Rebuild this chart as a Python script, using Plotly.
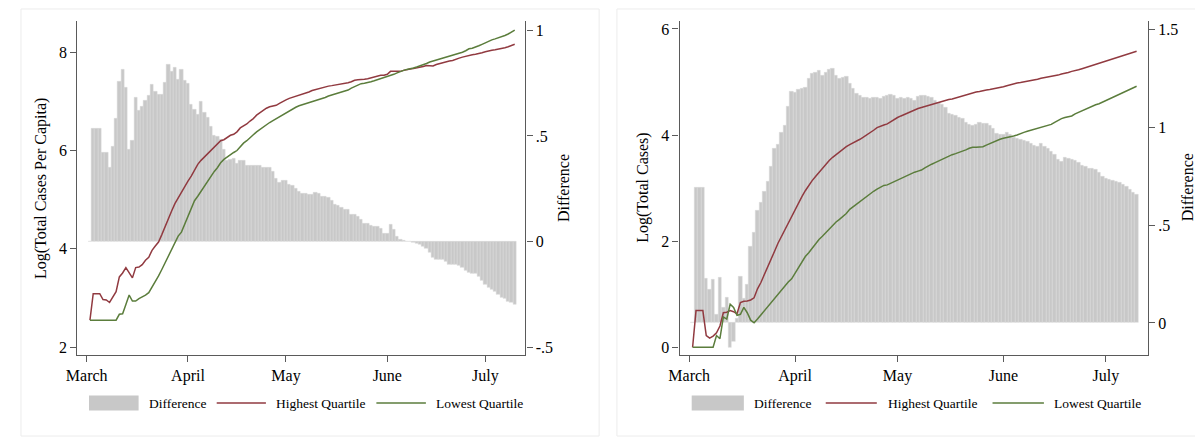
import plotly.graph_objects as go
import pandas as pd

# The page body adds an 8px margin, so the figure is sized and positioned to compensate.
OFF = 8
W, H = 1203 - OFF, 441 - OFF

# ---------------- data ----------------
dates = pd.date_range("2020-03-02", periods=131).strftime("%Y-%m-%d").tolist()
month_ticks = ["2020-03-01", "2020-04-01", "2020-05-01", "2020-06-01", "2020-07-01"]
month_labels = ["March", "April", "May", "June", "July"]

# Left panel: Log(Total Cases Per Capita)
left_high = [
    2.55, 3.09, 3.09, 3.09, 2.97, 2.96, 2.91, 3.01, 3.13, 3.43,
    3.51, 3.62, 3.51, 3.41, 3.62, 3.63, 3.68, 3.77, 3.83, 3.97,
    4.06, 4.14, 4.29, 4.46, 4.63, 4.77, 4.92, 5.04, 5.16, 5.26,
    5.38, 5.48, 5.60, 5.72, 5.80, 5.87, 5.93, 6.00, 6.06, 6.14,
    6.20, 6.22, 6.26, 6.31, 6.33, 6.38, 6.46, 6.50, 6.54, 6.60,
    6.65, 6.72, 6.77, 6.82, 6.86, 6.89, 6.91, 6.92, 6.96, 7.00,
    7.03, 7.06, 7.08, 7.10, 7.12, 7.14, 7.16, 7.19, 7.22, 7.24,
    7.26, 7.28, 7.29, 7.31, 7.32, 7.33, 7.34, 7.35, 7.36, 7.38,
    7.40, 7.43, 7.44, 7.44, 7.45, 7.46, 7.48, 7.49, 7.51, 7.53,
    7.53, 7.55, 7.61, 7.61, 7.61, 7.61, 7.63, 7.65, 7.66, 7.67,
    7.68, 7.69, 7.71, 7.73, 7.72, 7.72, 7.75, 7.77, 7.79, 7.80,
    7.82, 7.83, 7.86, 7.88, 7.90, 7.92, 7.93, 7.95, 7.96, 7.97,
    7.99, 8.01, 8.03, 8.04, 8.05, 8.06, 8.07, 8.09, 8.11, 8.13,
    8.16,
]
left_low = [
    2.55, 2.55, 2.55, 2.55, 2.55, 2.55, 2.55, 2.55, 2.55, 2.67,
    2.68, 2.87, 3.06, 2.94, 2.94, 2.99, 3.02, 3.06, 3.11, 3.22,
    3.34, 3.45, 3.58, 3.72, 3.83, 3.99, 4.12, 4.26, 4.34, 4.51,
    4.67, 4.85, 4.98, 5.07, 5.17, 5.28, 5.38, 5.48, 5.57, 5.65,
    5.75, 5.82, 5.87, 5.92, 5.96, 6.00, 6.08, 6.15, 6.20, 6.27,
    6.32, 6.38, 6.43, 6.48, 6.52, 6.57, 6.61, 6.65, 6.69, 6.73,
    6.77, 6.81, 6.85, 6.88, 6.91, 6.93, 6.95, 6.97, 7.00, 7.02,
    7.04, 7.06, 7.08, 7.11, 7.13, 7.15, 7.17, 7.19, 7.21, 7.23,
    7.27, 7.30, 7.33, 7.36, 7.37, 7.38, 7.40, 7.42, 7.44, 7.46,
    7.49, 7.51, 7.53, 7.55, 7.58, 7.61, 7.63, 7.65, 7.66, 7.68,
    7.70, 7.72, 7.75, 7.77, 7.80, 7.82, 7.83, 7.85, 7.87, 7.89,
    7.92, 7.94, 7.95, 7.98, 8.00, 8.03, 8.07, 8.08, 8.10, 8.13,
    8.16, 8.19, 8.23, 8.25, 8.27, 8.29, 8.32, 8.34, 8.37, 8.41,
    8.45,
]
left_diff = [
    0.0, 0.535, 0.535, 0.535, 0.422, 0.422, 0.351, 0.449, 0.582, 0.757,
    0.815, 0.729, 0.437, 0.477, 0.681, 0.621, 0.637, 0.666, 0.689, 0.744,
    0.710, 0.697, 0.697, 0.752, 0.839, 0.804, 0.823, 0.768, 0.815, 0.763,
    0.747, 0.647, 0.626, 0.602, 0.661, 0.610, 0.587, 0.543, 0.500, 0.496,
    0.484, 0.434, 0.385, 0.390, 0.395, 0.370, 0.382, 0.382, 0.362, 0.362,
    0.362, 0.362, 0.360, 0.348, 0.350, 0.350, 0.332, 0.296, 0.280, 0.288,
    0.288, 0.272, 0.264, 0.252, 0.237, 0.228, 0.228, 0.222, 0.222, 0.233,
    0.228, 0.214, 0.214, 0.209, 0.194, 0.175, 0.170, 0.159, 0.151, 0.151,
    0.130, 0.127, 0.118, 0.102, 0.083, 0.083, 0.075, 0.073, 0.069, 0.060,
    0.039, 0.039, 0.080, 0.055, 0.023, 0.008, 0.003, 0.001, -0.002, -0.005,
    -0.008, -0.016, -0.024, -0.032, -0.050, -0.077, -0.084, -0.085, -0.087, -0.093,
    -0.107, -0.110, -0.110, -0.113, -0.124, -0.137, -0.147, -0.150, -0.153, -0.166,
    -0.187, -0.203, -0.216, -0.228, -0.236, -0.250, -0.263, -0.272, -0.282, -0.290,
    -0.298,
]

# Right panel: Log(Total Cases)
right_high = [
    0.00, 0.69, 0.69, 0.69, 0.22, 0.17, 0.21, 0.27, 0.40, 0.65,
    0.66, 0.69, 0.67, 0.63, 0.84, 0.865, 0.87, 0.89, 0.93, 1.10,
    1.22, 1.36, 1.50, 1.65, 1.81, 1.96, 2.09, 2.22, 2.34, 2.47,
    2.60, 2.72, 2.84, 2.95, 3.05, 3.14, 3.22, 3.30, 3.38, 3.45,
    3.52, 3.58, 3.63, 3.69, 3.73, 3.78, 3.82, 3.85, 3.89, 3.92,
    3.96, 4.00, 4.04, 4.09, 4.14, 4.17, 4.19, 4.21, 4.25, 4.30,
    4.33, 4.36, 4.39, 4.42, 4.45, 4.47, 4.50, 4.52, 4.54, 4.56,
    4.58, 4.60, 4.61, 4.63, 4.65, 4.67, 4.68, 4.70, 4.72, 4.74,
    4.76, 4.78, 4.80, 4.81, 4.82, 4.84, 4.85, 4.86, 4.87, 4.88,
    4.89, 4.91, 4.93, 4.95, 4.96, 4.98, 4.99, 5.00, 5.01, 5.03,
    5.04, 5.05, 5.07, 5.08, 5.09, 5.10, 5.12, 5.13, 5.15, 5.16,
    5.18, 5.20, 5.21, 5.23, 5.25, 5.27, 5.29, 5.31, 5.33, 5.35,
    5.37, 5.40, 5.42, 5.44, 5.45, 5.47, 5.49, 5.51, 5.53, 5.55,
    5.58,
]
right_low = [
    0.00, 0.00, 0.00, 0.00, 0.00, 0.00, 0.00, 0.22, 0.16, 0.57,
    0.53, 0.81, 0.75, 0.60, 0.62, 0.75, 0.65, 0.51, 0.46, 0.53,
    0.61, 0.68, 0.75, 0.83, 0.91, 1.00, 1.09, 1.15, 1.23, 1.29,
    1.39, 1.50, 1.61, 1.71, 1.78, 1.87, 1.95, 2.03, 2.09, 2.16,
    2.22, 2.28, 2.36, 2.41, 2.46, 2.52, 2.60, 2.65, 2.70, 2.75,
    2.79, 2.84, 2.89, 2.94, 2.98, 3.02, 3.05, 3.06, 3.09, 3.12,
    3.15, 3.18, 3.21, 3.25, 3.28, 3.30, 3.32, 3.34, 3.38, 3.42,
    3.45, 3.48, 3.51, 3.54, 3.58, 3.61, 3.63, 3.65, 3.67, 3.70,
    3.72, 3.75, 3.77, 3.77, 3.77, 3.78, 3.81, 3.84, 3.87, 3.90,
    3.92, 3.94, 3.95, 3.96, 3.98, 4.00, 4.03, 4.05, 4.07, 4.09,
    4.11, 4.12, 4.14, 4.16, 4.18, 4.20, 4.24, 4.28, 4.31, 4.33,
    4.34, 4.36, 4.40, 4.43, 4.46, 4.49, 4.52, 4.55, 4.57, 4.59,
    4.62, 4.65, 4.68, 4.71, 4.74, 4.77, 4.80, 4.82, 4.85, 4.88,
    4.92,
]
right_diff = [
    0.0, 0.69, 0.69, 0.69, 0.227, 0.172, 0.222, 0.045, 0.232, 0.077,
    0.130, -0.125, -0.095, 0.02, 0.236, 0.125, 0.197, 0.388, 0.460, 0.575,
    0.617, 0.673, 0.724, 0.801, 0.889, 0.911, 0.975, 1.009, 1.108, 1.182,
    1.179, 1.194, 1.196, 1.205, 1.250, 1.276, 1.281, 1.288, 1.264, 1.281,
    1.298, 1.301, 1.267, 1.250, 1.255, 1.262, 1.225, 1.199, 1.174, 1.162,
    1.152, 1.152, 1.148, 1.152, 1.154, 1.145, 1.157, 1.165, 1.169, 1.160,
    1.145, 1.154, 1.148, 1.152, 1.145, 1.138, 1.157, 1.165, 1.162, 1.155,
    1.152, 1.135, 1.126, 1.118, 1.101, 1.072, 1.064, 1.059, 1.050, 1.047,
    1.026, 1.016, 1.009, 1.016, 1.026, 1.020, 1.021, 1.009, 0.992, 0.970,
    0.962, 0.962, 0.975, 0.965, 0.950, 0.941, 0.935, 0.931, 0.925, 0.919,
    0.908, 0.902, 0.916, 0.902, 0.891, 0.877, 0.860, 0.835, 0.825, 0.843,
    0.840, 0.835, 0.828, 0.818, 0.806, 0.798, 0.790, 0.789, 0.782, 0.770,
    0.750, 0.739, 0.735, 0.728, 0.721, 0.716, 0.710, 0.695, 0.680, 0.668,
    0.656,
]

# ---------------- style ----------------
FONT = "Liberation Serif"
BAR = "#c8c8c8"
RED = "#913a40"
GREEN = "#5b7d3c"
AX = "#5a5a5a"
DAY_MS = 86400000


def px(x):
    return (x - OFF) / W


def py(y):
    return 1 - (y - OFF) / H


fig = go.Figure()

panels = [
    dict(x="x", ybar="y", yline="y2", diff=left_diff, high=left_high, low=left_low),
    dict(x="x2", ybar="y3", yline="y4", diff=right_diff, high=right_high, low=right_low),
]
for p in panels:
    fig.add_trace(go.Bar(
        x=dates, y=p["diff"], xaxis=p["x"], yaxis=p["ybar"], width=DAY_MS,
        marker=dict(color=BAR, line=dict(color="#dadada", width=0.5)),
        name="Difference", showlegend=False, hoverinfo="skip"))
    fig.add_trace(go.Scatter(
        x=dates, y=p["high"], xaxis=p["x"], yaxis=p["yline"], mode="lines",
        line=dict(color=RED, width=1.5), name="Highest Quartile", showlegend=False))
    fig.add_trace(go.Scatter(
        x=dates, y=p["low"], xaxis=p["x"], yaxis=p["yline"], mode="lines",
        line=dict(color=GREEN, width=1.5), name="Lowest Quartile", showlegend=False))

ydom = [py(355.8), py(20.6)]
xrange = ["2020-02-27 04:00", "2020-07-13 07:00"]
common_axis = dict(showline=True, linecolor=AX, linewidth=1.2, ticks="outside",
                   ticklen=6, tickwidth=1, tickcolor=AX, showgrid=False,
                   zeroline=False, tickfont=dict(family=FONT, size=16, color="black"))

fig.update_layout(
    width=W, height=H,
    margin=dict(l=0, r=0, t=0, b=0),
    paper_bgcolor="white", plot_bgcolor="white",
    bargap=0, showlegend=False,
    font=dict(family=FONT, color="black"),
    xaxis=dict(domain=[px(66), px(518.6)], anchor="y", type="date", range=xrange,
               tickvals=month_ticks, ticktext=month_labels, **common_axis),
    yaxis=dict(domain=ydom, anchor="x", side="right", range=[-0.537, 1.046],
               tickvals=[-0.5, 0, 0.5, 1], ticktext=["-.5", "0", ".5", "1"], **common_axis),
    yaxis2=dict(overlaying="y", anchor="x", side="left", range=[1.842, 8.643],
                tickvals=[2, 4, 6, 8], ticktext=["2", "4", "6", "8"], **common_axis),
    xaxis2=dict(domain=[px(674.2), px(1147.3)], anchor="y3", type="date", range=xrange,
                tickvals=month_ticks, ticktext=month_labels, **common_axis),
    yaxis3=dict(domain=ydom, anchor="x2", side="right", range=[-0.164, 1.546],
                tickvals=[0, 0.5, 1, 1.5], ticktext=["0", ".5", "1", "1.5"], **common_axis),
    yaxis4=dict(overlaying="y3", anchor="x2", side="left", range=[-0.147, 6.158],
                tickvals=[0, 2, 4, 6], ticktext=["0", "2", "4", "6"], **common_axis),
)

shapes = []
annotations = []

# panel frames
for x0, x1 in [(9, 593), (611, 1199)]:
    shapes.append(dict(type="rect", xref="paper", yref="paper", x0=px(x0), x1=px(x1),
                       y0=py(437), y1=py(9), line=dict(color="#ececec", width=1),
                       fillcolor="rgba(0,0,0,0)", layer="below"))

# axis titles
titles = [
    (28.7, "Log(Total Cases Per Capita)"),
    (557, "Difference"),
    (636.5, "Log(Total Cases)"),
    (1187.5, "Difference"),
]
for xc, t in titles:
    annotations.append(dict(x=px(xc), y=py(188), xref="paper", yref="paper", text=t,
                            textangle=-90, showarrow=False, xanchor="center", yanchor="middle",
                            font=dict(family=FONT, size=16, color="black")))

# legends
legend_specs = [
    dict(box=(77.7, 127.8), t1=135.9, red=(206.7, 256.4), t2=265, green=(368, 418), t3=426.7),
    dict(box=(686.5, 739.2), t1=747.3, red=(821.9, 873.5), t2=882.7, green=(990.4, 1042.3), t3=1050.8),
]
ly = 404
for s in legend_specs:
    shapes.append(dict(type="rect", xref="paper", yref="paper", x0=px(s["box"][0]), x1=px(s["box"][1]),
                       y0=py(411.5), y1=py(396.5), line=dict(width=0), fillcolor=BAR))
    shapes.append(dict(type="line", xref="paper", yref="paper", x0=px(s["red"][0]), x1=px(s["red"][1]),
                       y0=py(ly), y1=py(ly), line=dict(color=RED, width=1.5)))
    shapes.append(dict(type="line", xref="paper", yref="paper", x0=px(s["green"][0]), x1=px(s["green"][1]),
                       y0=py(ly), y1=py(ly), line=dict(color=GREEN, width=1.5)))
    for xt, t in [(s["t1"], "Difference"), (s["t2"], "Highest Quartile"), (s["t3"], "Lowest Quartile")]:
        annotations.append(dict(x=px(xt), y=py(ly), xref="paper", yref="paper", text=t,
                                showarrow=False, xanchor="left", yanchor="middle",
                                font=dict(family=FONT, size=13.5, color="black")))

fig.update_layout(shapes=shapes, annotations=annotations)
fig.write_html("out.html")
